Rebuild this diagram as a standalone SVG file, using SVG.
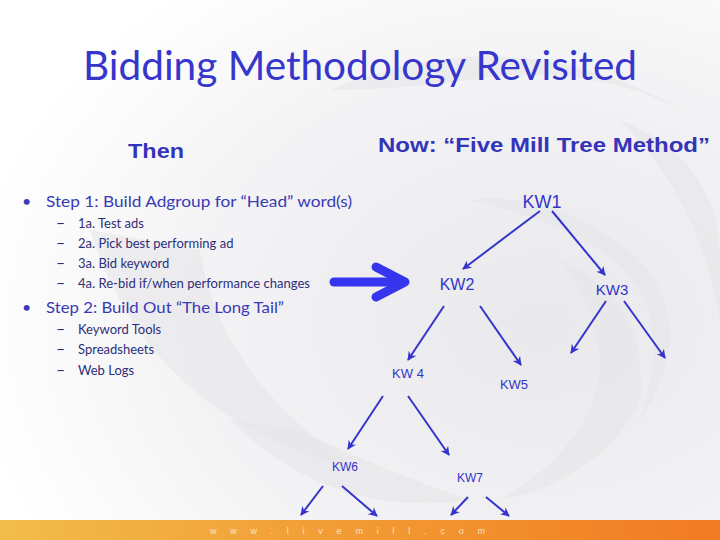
<svg xmlns="http://www.w3.org/2000/svg" width="720" height="540" viewBox="0 0 720 540">
<defs>
<radialGradient id="bg" cx="0.75" cy="0.6" r="0.8">
<stop offset="0" stop-color="#e9e9ec"/>
<stop offset="0.6" stop-color="#f3f3f5"/>
<stop offset="1" stop-color="#ffffff"/>
</radialGradient>
<linearGradient id="bar" x1="0" y1="0" x2="1" y2="0">
<stop offset="0" stop-color="#f2bc4c"/>
<stop offset="0.5" stop-color="#f29a34"/>
<stop offset="1" stop-color="#f27a22"/>
</linearGradient>
<marker id="ah" viewBox="0 0 10 10" refX="9" refY="5" markerWidth="10" markerHeight="9" markerUnits="userSpaceOnUse" orient="auto">
<path d="M0,0 L10,5 L0,10 L3,5 Z" fill="#3434cc"/>
</marker>
<style>
.title{font-family:Lato,"Open Sans",sans-serif;font-size:40px;fill:#3636cc}
.hd{font-family:"Liberation Sans",Arial,sans-serif;font-weight:bold;fill:#3434b8}
.step{font-family:Lato,"Open Sans",sans-serif;font-size:16px;fill:#3a3ab4}
.sub{font-family:Lato,"Open Sans",sans-serif;font-size:13px;fill:#2e2e78}
.dash{font-family:Lato,"Open Sans",sans-serif;font-size:16px;fill:#2e2e78}
.kw{font-family:"Liberation Sans",Arial,sans-serif;fill:#3434c8;text-anchor:middle}
.edge{stroke:#3434cc;stroke-width:2;fill:none;marker-end:url(#ah)}
.wm{fill:#e6e6ea;opacity:0.6}
</style>
</defs>
<rect width="720" height="540" fill="url(#bg)"/>
<g id="watermark">
<path class="wm" d="M330,90 Q520,10 700,120 Q600,60 470,80 Q390,90 330,90 Z"/>
<path class="wm" d="M90,230 Q150,420 360,470 Q220,380 200,250 Z"/>
<path class="wm" d="M470,200 Q560,190 640,260 Q700,330 640,420 Q680,300 600,250 Q540,215 470,200 Z"/>
<path class="wm" d="M560,260 Q650,300 640,400 Q600,480 500,500 Q600,440 600,360 Q595,300 560,260 Z"/>
<path class="wm" d="M230,420 Q330,520 470,500 Q380,470 300,430 Z"/>
<path class="wm" d="M620,120 Q720,160 720,260 L720,320 Q700,200 620,120 Z"/>
</g>
<rect x="0" y="520" width="720" height="20" fill="url(#bar)"/>
<text x="210" y="534" font-family="Liberation Sans,Arial,sans-serif" font-size="9" fill="#fbe3c2" letter-spacing="13.8">www.livemill.com</text>

<g id="title"><text class="title" x="360" y="80" text-anchor="middle" textLength="554" lengthAdjust="spacingAndGlyphs">Bidding Methodology Revisited</text></g>
<g id="then"><text class="hd" x="128" y="158" font-size="21" textLength="56" lengthAdjust="spacingAndGlyphs">Then</text></g>
<g id="now"><text class="hd" x="378" y="152" font-size="20" textLength="332" lengthAdjust="spacingAndGlyphs">Now: “Five Mill Tree Method”</text></g>

<g id="list">
<text class="step" x="22" y="207" font-size="14">•</text>
<text class="step" x="46" y="207" textLength="306" lengthAdjust="spacingAndGlyphs">Step 1:  Build Adgroup for “Head” word(s)</text>
<text class="dash" x="56" y="228">–</text><text class="sub" x="78" y="228">1a. Test ads</text>
<text class="dash" x="56" y="248">–</text><text class="sub" x="78" y="248">2a. Pick best performing ad</text>
<text class="dash" x="56" y="268">–</text><text class="sub" x="78" y="268">3a. Bid keyword</text>
<text class="dash" x="56" y="288">–</text><text class="sub" x="78" y="288" textLength="232" lengthAdjust="spacingAndGlyphs">4a. Re-bid if/when performance changes</text>
<text class="step" x="22" y="313" font-size="14">•</text>
<text class="step" x="46" y="313" textLength="238" lengthAdjust="spacingAndGlyphs">Step 2: Build Out “The Long Tail”</text>
<text class="dash" x="56" y="334">–</text><text class="sub" x="78" y="334">Keyword Tools</text>
<text class="dash" x="56" y="354">–</text><text class="sub" x="78" y="354">Spreadsheets</text>
<text class="dash" x="56" y="375">–</text><text class="sub" x="78" y="375">Web Logs</text>
</g>

<g id="big-arrow" stroke="#3535ee" stroke-width="9" stroke-linecap="round" stroke-linejoin="round" fill="none">
<path d="M334,282 L400,282"/>
<path d="M376,267 L405,282 L376,297"/>
</g>

<g id="connectors">
<line class="edge" x1="540" y1="211" x2="463" y2="269"/>
<line class="edge" x1="552" y1="211" x2="605" y2="275"/>
<line class="edge" x1="444" y1="306" x2="408" y2="360"/>
<line class="edge" x1="480" y1="306" x2="521" y2="365"/>
<line class="edge" x1="606" y1="301" x2="571" y2="353"/>
<line class="edge" x1="624" y1="301" x2="665" y2="358"/>
<line class="edge" x1="383" y1="396" x2="348" y2="449"/>
<line class="edge" x1="408" y1="396" x2="449" y2="455"/>
<line class="edge" x1="323" y1="486" x2="301" y2="515"/>
<line class="edge" x1="342" y1="486" x2="377" y2="516"/>
<line class="edge" x1="468" y1="497" x2="451" y2="515"/>
<line class="edge" x1="486" y1="497" x2="509" y2="516"/>
</g>

<g id="kw1"><text class="kw" x="542" y="208" font-size="18">KW1</text></g>
<g id="kw2"><text class="kw" x="457" y="290" font-size="16">KW2</text></g>
<g id="kw3"><text class="kw" x="612" y="295" font-size="15">KW3</text></g>
<g id="kw4"><text class="kw" x="408" y="378" font-size="13">KW 4</text></g>
<g id="kw5"><text class="kw" x="514" y="389" font-size="13">KW5</text></g>
<g id="kw6"><text class="kw" x="345" y="471" font-size="12">KW6</text></g>
<g id="kw7"><text class="kw" x="470" y="482" font-size="12">KW7</text></g>
</svg>
